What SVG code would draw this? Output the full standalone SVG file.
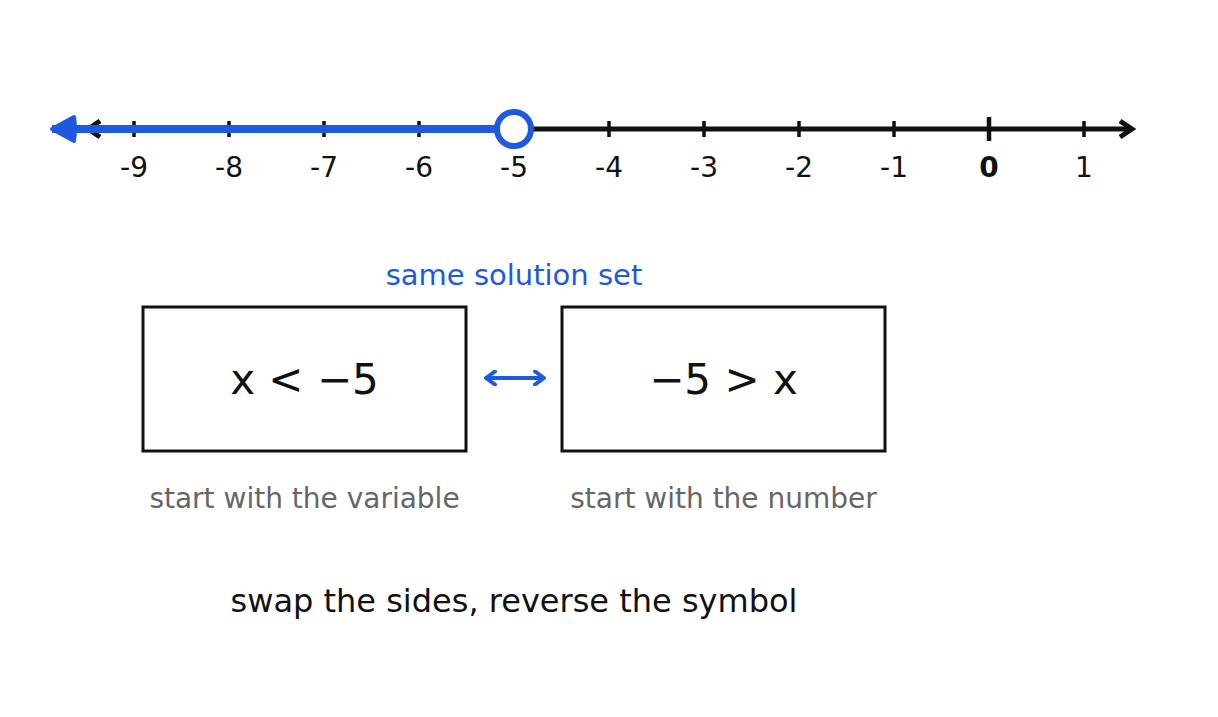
<svg xmlns="http://www.w3.org/2000/svg" width="1218" height="717" viewBox="0 0 1218 717">
<style>
text{font-family:"DejaVu Sans","Noto Sans",sans-serif;text-anchor:middle}
.t{stroke:#111;stroke-width:3.5}
.n{font-size:28px;fill:#111}
.box{fill:#fff;stroke:#111;stroke-width:3}
.bt{font-size:42px;fill:#111}
.sub{font-size:28px;fill:#666}
</style>
<defs>
<marker id="bk" markerWidth="20" markerHeight="24" refX="16" refY="12" orient="auto-start-reverse" markerUnits="userSpaceOnUse"><path d="M4,4 L16,12 L4,20" fill="none" stroke="#111" stroke-width="5" stroke-linejoin="miter"/></marker>
<marker id="bl" markerWidth="34" markerHeight="34" refX="30" refY="17" orient="auto-start-reverse" markerUnits="userSpaceOnUse"><path d="M30,17 L8,5 Q6,17 8,29 Z" fill="#1d5ae0" stroke="#1d5ae0" stroke-width="4" stroke-linejoin="round"/></marker>
<marker id="ba" markerWidth="16" markerHeight="16" refX="12" refY="8" orient="auto-start-reverse" markerUnits="userSpaceOnUse"><path d="M3,1.5 L12,8 L3,14.5" fill="none" stroke="#1d5ae0" stroke-width="4" stroke-linecap="round" stroke-linejoin="round"/></marker>
</defs>
<g id="connectors">
<line x1="88" y1="129" x2="1132" y2="129" stroke="#111" stroke-width="5" marker-start="url(#bk)" marker-end="url(#bk)"/>
<g class="t">
<line x1="134" y1="121" x2="134" y2="137"/><line x1="229" y1="121" x2="229" y2="137"/><line x1="324" y1="121" x2="324" y2="137"/><line x1="419" y1="121" x2="419" y2="137"/><line x1="609" y1="121" x2="609" y2="137"/><line x1="704" y1="121" x2="704" y2="137"/><line x1="799" y1="121" x2="799" y2="137"/><line x1="894" y1="121" x2="894" y2="137"/><line x1="1084" y1="121" x2="1084" y2="137"/>
<line x1="989" y1="117" x2="989" y2="141" stroke-width="4.5"/>
</g>
<line x1="497" y1="129" x2="52" y2="129" stroke="#1d5ae0" stroke-width="8" marker-end="url(#bl)"/>
<line x1="486" y1="378" x2="544" y2="378" stroke="#1d5ae0" stroke-width="4" marker-start="url(#ba)" marker-end="url(#ba)"/>
</g>
<g id="point"><circle cx="514" cy="129" r="17" fill="#fff" stroke="#1d5ae0" stroke-width="6"/></g>
<g id="labels" class="n">
<text x="134" y="177">-9</text><text x="229" y="177">-8</text><text x="324" y="177">-7</text><text x="419" y="177">-6</text><text x="514" y="177">-5</text><text x="609" y="177">-4</text><text x="704" y="177">-3</text><text x="799" y="177">-2</text><text x="894" y="177">-1</text><text x="989" y="177" font-weight="bold">0</text><text x="1084" y="177">1</text>
</g>
<text x="514" y="285" font-size="29" fill="#1d5ae0">same solution set</text>
<g id="left"><rect class="box" x="143" y="307" width="323" height="144"/><text class="bt" x="304.5" y="394">x &lt; −5</text></g>
<g id="right"><rect class="box" x="562" y="307" width="323" height="144"/><text class="bt" x="723.5" y="394">−5 &gt; x</text></g>
<text class="sub" x="304.5" y="508">start with the variable</text>
<text class="sub" x="723.5" y="508">start with the number</text>
<text x="514" y="612" font-size="32" fill="#111">swap the sides, reverse the symbol</text>
</svg>
